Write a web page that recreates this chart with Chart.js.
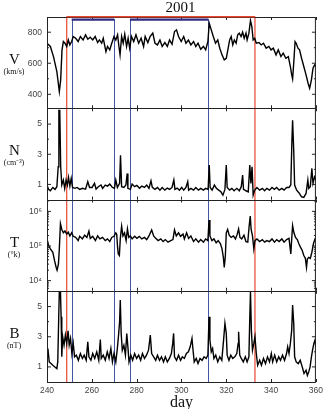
<!DOCTYPE html>
<html><head><meta charset="utf-8">
<script src="https://cdn.jsdelivr.net/npm/chart.js@4"></script>
<style>html,body{margin:0;padding:0;background:#fff;}#wrap{position:relative;width:327px;height:409px;}canvas{display:block}</style>
</head><body><div id="wrap"><canvas id="c" width="327" height="409"></canvas></div>
<script>
const yearTitle = '2001';
const xTitle = 'day';
const xTicks = [240, 260, 280, 300, 320, 340, 360];
const vTicks = [400, 600, 800];
const nTicks = [1, 3, 5];
const tTicks = [1e4, 1e5, 1e6];
const bTicks = [1, 3, 5];
const redBox = [248.8, 332.8];
const blueLines = [251, 270, 277, 312];
const blueBars = [[251, 270], [277, 312]];

const vData = [[240,729],[241.5,708],[242.9,643],[244.4,546],[245.5,417],[246.1,493],[246.7,686],[247.3,740],[248,729],[248.8,708],[249.5,750],[250.2,718],[251,740],[251.7,772],[252.8,761],[253.9,740],[254.9,772],[256.1,750],[257.2,783],[258.2,755],[259.3,768],[260.4,750],[261.5,772],[262.6,733],[263.4,750],[264.4,729],[265.1,761],[266.3,675],[267,708],[268,686],[268.9,729],[269.9,772],[270.7,750],[271.5,783],[272.1,708],[272.6,654],[273.3,772],[274,729],[274.7,787],[275.5,708],[276.2,761],[276.9,697],[277.7,772],[278.7,740],[279.7,783],[280.9,729],[282,761],[283.1,708],[283.8,772],[285,733],[286,772],[287.2,794],[288.2,729],[289.3,718],[290.4,750],[291.4,708],[292.6,733],[293.7,708],[294.7,750],[295.8,722],[296.9,804],[297.8,815],[298.7,772],[299.9,740],[301,772],[302,729],[303.1,750],[304.2,718],[305.4,740],[306.4,708],[307.4,729],[308.6,690],[309.8,708],[310.8,686],[311.8,740],[312.4,858],[313.3,815],[314.2,772],[315.2,729],[316.2,750],[317.1,697],[318.1,654],[319.1,622],[320,632],[320.7,686],[321.5,750],[322.2,772],[322.9,718],[323.6,750],[324.4,729],[325.1,783],[325.8,794],[326.6,772],[327.3,800],[328,761],[328.8,794],[329.3,750],[330.1,794],[330.8,875],[331.4,837],[332,750],[332.7,761],[333.4,729],[334.6,733],[335.6,718],[336.6,729],[337.8,697],[339,708],[340,686],[341,697],[342.2,654],[343.2,686],[344.4,643],[345.4,665],[346.6,632],[347.7,643],[348.6,579],[349.2,525],[349.6,499],[350.1,600],[350.7,740],[351.2,729],[352,697],[352.7,686],[353.6,632],[354.6,579],[355.6,525],[356.5,471],[357.2,439],[358,493],[358.7,568],[359.4,589],[360,579]];

const nData = [[240,0.96],[240.7,0.67],[241.5,0.58],[242.6,0.8],[243.6,0.67],[244.4,0.85],[245,2.17],[245.3,5.9],[245.7,5.9],[246.1,2.2],[246.6,0.96],[247.3,1.29],[247.9,0.74],[248.5,1.29],[249.1,0.96],[249.6,1.46],[250.2,0.89],[250.8,1.4],[251.4,0.8],[252.4,0.74],[253.4,0.8],[254.6,0.67],[255.8,0.74],[257.2,0.69],[258.2,1.18],[259,0.8],[260.1,0.8],[261.2,1.07],[261.9,0.69],[262.9,0.85],[264.1,0.96],[264.8,0.74],[266,0.96],[267,0.89],[268,1.02],[269.2,0.8],[270.1,0.74],[270.7,1.29],[271.4,0.8],[272.4,1.07],[272.8,2.94],[273.3,0.85],[274.3,0.8],[275.2,0.96],[275.8,1.73],[276.1,0.74],[277.2,0.67],[278,1.02],[279.1,0.85],[280.1,0.93],[281.3,0.74],[282.3,0.89],[283.5,0.8],[284.5,0.96],[285.5,0.74],[286.4,1.24],[287,0.8],[288.2,0.67],[289.3,0.8],[290.4,0.62],[291.4,0.8],[292.6,0.62],[293.7,0.76],[294.7,0.67],[295.8,0.8],[296.6,1.29],[297.1,0.67],[298.1,0.76],[299.1,0.62],[300.1,0.8],[301,0.62],[302,0.8],[302.8,1.18],[303.2,0.62],[304.2,0.74],[305.4,0.62],[306.4,0.8],[307.6,0.62],[308.6,0.74],[309.8,0.62],[310.8,0.74],[311.9,0.67],[312.4,2.28],[312.8,0.8],[313.7,0.62],[314.7,0.96],[315.6,0.74],[316.6,0.62],[317.6,0.51],[318.5,0.29],[319.4,0.67],[320,2.28],[320.4,0.8],[321.5,0.62],[322.5,0.74],[323.5,0.58],[324.7,0.74],[325.8,0.58],[326.7,0.85],[327.3,1.62],[327.7,0.67],[328.8,0.58],[329.8,0.51],[330.5,2.28],[331,1.07],[331.5,2.17],[332,0.29],[332.7,0.62],[333.7,0.8],[334.9,0.62],[336.1,0.74],[337.1,0.58],[338.1,0.74],[339.3,0.62],[340.4,0.8],[341.5,0.67],[342.5,0.8],[343.6,0.62],[344.8,0.74],[345.8,0.62],[346.9,0.8],[348,0.8],[348.8,0.96],[349.3,3.94],[349.6,5.26],[350.1,3.27],[350.5,0.96],[351.4,0.62],[352.4,0.45],[353.6,0.18],[354.6,0.14],[355.6,0.4],[356.4,1.29],[356.8,0.74],[357.5,0.85],[358.2,2.06],[358.7,1.07],[359.4,1.5],[360,1.29]];

const tData = [[240,1.6e5],[240.7,1.05e5],[241.5,8.3e4],[242.6,6.6e4],[243.4,3.7e4],[244.1,2.4e4],[244.5,2.0e4],[245.1,3.0e4],[245.5,8.3e4],[246,4.4e5],[246.6,3.0e5],[247.3,2.4e5],[248,2.7e5],[248.8,2.2e5],[249.5,2.5e5],[250.2,1.95e5],[251,2.4e5],[251.7,1.9e5],[252.8,1.77e5],[253.9,1.43e5],[254.6,1.9e5],[255.8,1.6e5],[256.8,2.05e5],[257.8,1.77e5],[258.7,2.7e5],[259.3,1.66e5],[260.4,1.9e5],[261.6,1.43e5],[262.6,1.95e5],[263.6,1.6e5],[264.8,1.77e5],[266,1.43e5],[267,1.6e5],[268,1.34e5],[268.9,1.77e5],[269.9,1.9e5],[270.7,2.4e5],[271.1,2.2e5],[271.5,9.3e4],[271.8,5.9e4],[272.3,5.3e4],[272.7,1.6e5],[273.3,3.7e5],[273.9,1.95e5],[274.6,2.4e5],[275.3,1.43e5],[275.9,3.1e5],[276.5,1.77e5],[277.2,1.95e5],[278,1.6e5],[279.1,1.9e5],[280.1,1.66e5],[281.2,1.9e5],[282.3,1.6e5],[283.5,1.77e5],[284.5,1.53e5],[285.5,1.95e5],[286.7,2.9e5],[287.6,1.95e5],[288.5,1.66e5],[289.6,1.43e5],[290.8,1.6e5],[291.8,1.34e5],[292.8,1.53e5],[294,1.29e5],[295.2,1.43e5],[296.2,1.53e5],[296.9,2.9e5],[297.7,1.95e5],[298.7,2.4e5],[299.6,1.9e5],[300.7,2.2e5],[301.3,1.6e5],[302.3,2.4e5],[303.2,1.66e5],[304.2,1.95e5],[305.4,1.34e5],[306.4,1.6e5],[307.6,1.29e5],[308.6,1.53e5],[309.8,1.29e5],[310.8,1.6e5],[311.8,1.43e5],[312.3,5.6e5],[312.7,1.95e5],[313.6,1.43e5],[314.5,1.6e5],[315.5,1.24e5],[316.4,1.43e5],[317.4,1.16e5],[318.1,8.3e4],[318.7,4.7e4],[319.1,2.4e4],[319.6,5.3e4],[320,2.4e5],[320.6,3.0e5],[321.3,2.05e5],[322.2,1.77e5],[323.2,1.95e5],[324.1,1.6e5],[324.9,2.2e5],[325.5,3.1e5],[326.1,1.77e5],[326.9,1.6e5],[327.9,2.05e5],[328.8,1.34e5],[329.6,1.29e5],[330.2,3.7e5],[330.7,7.3e5],[331.1,3.0e5],[331.7,1.95e5],[332.3,8.3e4],[332.8,1.43e5],[333.7,1.6e5],[334.9,1.34e5],[336.1,1.53e5],[337.1,1.29e5],[338.1,1.43e5],[339.3,1.34e5],[340.4,1.6e5],[341.5,1.29e5],[342.5,1.53e5],[343.6,1.34e5],[344.8,1.6e5],[345.8,1.29e5],[346.9,1.53e5],[348,1.66e5],[348.8,5.9e4],[349.2,1.6e5],[349.6,3.9e5],[350.2,2.4e5],[350.9,1.77e5],[351.7,1.53e5],[352.4,1.16e5],[353.1,9.3e4],[353.9,7.4e4],[354.6,5.3e4],[355.3,4.4e4],[355.8,2.4e4],[356.2,4.2e4],[356.8,4.7e4],[357.5,4.4e4],[358.2,6.6e4],[358.9,1.16e5],[359.6,1.6e5],[360,1.66e5]];

const bData = [[240,1.67],[240.4,2.22],[241,1.33],[241.8,1.22],[242.6,1.11],[243.5,1.0],[244.4,0.89],[244.8,1.33],[245.3,4.78],[245.5,6.0],[246,6.0],[246.3,4.33],[246.6,1.67],[247,3.0],[247.6,2.44],[248.2,3.11],[248.8,2.56],[249.4,3.4],[249.9,2.44],[250.5,2.89],[251.1,1.89],[251.7,2.56],[252.3,1.67],[253.1,1.78],[254,1.44],[254.9,1.89],[255.8,1.56],[256.6,1.78],[257.5,1.44],[258.2,2.67],[258.7,1.67],[259.6,1.44],[260.4,1.89],[261.3,1.56],[262.2,2.0],[263.1,1.44],[263.8,2.82],[264.2,1.56],[265.1,1.78],[266,1.44],[266.9,2.0],[267.7,1.56],[268.5,2.22],[269.2,1.33],[269.9,1.89],[270.7,1.33],[271.4,2.22],[272,3.22],[272.4,4.0],[272.7,5.44],[273.1,3.22],[273.6,2.11],[274.3,2.44],[275,1.78],[275.6,3.22],[276.1,2.33],[276.6,1.33],[277.4,1.78],[278.2,1.44],[279.1,1.89],[280,1.56],[280.9,1.78],[281.8,1.44],[282.6,1.89],[283.5,1.56],[284.4,1.78],[285.3,2.11],[286.1,3.11],[286.7,1.89],[287.6,1.67],[288.5,1.44],[289.3,1.78],[290.2,1.44],[291.1,1.67],[292,1.33],[292.8,1.67],[293.7,1.33],[294.6,1.56],[295.5,1.89],[296.1,2.56],[296.5,3.22],[296.9,1.67],[297.8,1.44],[298.7,1.78],[299.6,1.44],[300.4,1.67],[301.3,1.56],[302.2,1.89],[303.1,2.0],[303.9,2.33],[304.7,2.89],[305.1,2.22],[305.7,1.33],[306.6,1.56],[307.4,1.22],[308.3,1.56],[309.2,1.44],[310.1,1.67],[311,1.56],[311.8,1.78],[312.3,4.33],[312.7,2.78],[313.3,2.0],[313.9,2.22],[314.5,1.56],[315.3,1.78],[316.2,1.33],[317.1,1.67],[318,1.44],[318.8,2.78],[319.4,3.89],[320,3.22],[320.4,1.78],[321.2,1.44],[322,1.78],[322.9,1.56],[323.8,1.67],[324.7,1.89],[325.3,2.56],[325.5,3.33],[326,1.78],[326.7,1.56],[327.6,1.33],[328.5,1.67],[329.3,1.33],[330.1,1.67],[330.5,4.33],[330.8,6.0],[331.2,3.44],[331.7,2.11],[332.3,2.56],[332.8,3.0],[333.4,1.89],[334,1.11],[334.9,1.44],[335.7,1.11],[336.6,1.56],[337.5,1.22],[338.4,1.67],[339.3,1.33],[340.1,1.89],[340.7,1.33],[341.6,1.78],[342.5,1.33],[343.4,1.67],[344.2,1.44],[345.1,1.78],[346,1.44],[346.9,1.89],[347.4,2.33],[348,1.89],[348.6,2.56],[349.2,3.44],[349.6,5.11],[350.1,3.89],[350.5,1.67],[351.2,1.33],[352.1,1.22],[353,1.44],[353.9,1.0],[354.7,0.56],[355.6,0.78],[356.2,0.44],[356.8,0.67],[357.4,1.0],[358,1.67],[358.5,2.11],[359.1,2.56],[359.6,2.78],[360,2.33]];

const panelLabels = [
  {axis: 'yV', main: 'V', unit: '(km/s)'},
  {axis: 'yN', main: 'N', unit: '(cm\u207B\u00B3)'},
  {axis: 'yT', main: 'T', unit: '(\u00B0k)'},
  {axis: 'yB', main: 'B', unit: '(nT)'}
];
const supers = {4: '\u2074', 5: '\u2075', 6: '\u2076'};

const tickFont = {family: "'Liberation Sans', Arial, sans-serif", size: 8.5};
const tickColor = '#444';

function yScale(extra, ticksArr) {
  return Object.assign({
    position: 'left', stack: 'panels', stackWeight: 1,
    grid: {display: false, drawTicks: false}, border: {display: false},
    ticks: {font: tickFont, color: tickColor, padding: 5, autoSkip: false},
    afterBuildTicks: s => { s.ticks = ticksArr.map(v => ({value: v})); },
    afterFit: s => { s.width = 47; }
  }, extra);
}

const deco = {
  id: 'deco',
  beforeDatasetsDraw(chart) {
    const {ctx, chartArea: a, scales} = chart;
    const x = scales.x;
    ctx.save();
    ctx.strokeStyle = '#4356a6'; ctx.lineWidth = 1;
    blueLines.forEach(d => {
      const px = Math.round(x.getPixelForValue(d)) + 0.5;
      ctx.beginPath(); ctx.moveTo(px, a.top + 2); ctx.lineTo(px, a.bottom); ctx.stroke();
    });
    ctx.strokeStyle = '#e8452f'; ctx.lineWidth = 1.2;
    redBox.forEach(d => {
      const px = x.getPixelForValue(d);
      ctx.beginPath(); ctx.moveTo(px, a.top - 0.5); ctx.lineTo(px, a.bottom); ctx.stroke();
    });
    ctx.restore();
  },
  afterDatasetsDraw(chart) {
    const {ctx, chartArea: a, scales} = chart;
    const x = scales.x;
    ctx.save();
    ctx.strokeStyle = '#222'; ctx.lineWidth = 1;
    const minorSets = {
      yV: [500, 700],
      yN: [2, 4, 6],
      yB: [2, 4, 6],
      yT: [2e3,3e3,4e3,5e3,6e3,7e3,8e3,9e3,2e4,3e4,4e4,5e4,6e4,7e4,8e4,9e4,2e5,3e5,4e5,5e5,6e5,7e5,8e5,9e5,2e6]
    };
    ['yV','yN','yT','yB'].forEach(id => {
      const s = scales[id];
      ctx.strokeRect(a.left + 0.5, Math.round(s.top) + 0.5, a.right - a.left - 1, Math.round(s.bottom) - Math.round(s.top));
      const draw = (v, len) => {
        const py = s.getPixelForValue(v);
        if (py < s.top + 1 || py > s.bottom - 1) return;
        ctx.beginPath();
        ctx.moveTo(a.left, py); ctx.lineTo(a.left + len, py);
        ctx.moveTo(a.right, py); ctx.lineTo(a.right - len, py);
        ctx.stroke();
      };
      s.ticks.forEach(t => draw(t.value, 4));
      minorSets[id].forEach(v => draw(v, 2));
      xTicks.forEach(d => {
        const px = Math.round(x.getPixelForValue(d)) + 0.5;
        ctx.beginPath();
        ctx.moveTo(px, s.top); ctx.lineTo(px, s.top + 3);
        ctx.moveTo(px, s.bottom); ctx.lineTo(px, s.bottom - 3);
        ctx.stroke();
      });
    });
    // red top line
    ctx.strokeStyle = '#e8452f'; ctx.lineWidth = 1.6;
    ctx.beginPath();
    ctx.moveTo(x.getPixelForValue(redBox[0]), a.top - 0.3);
    ctx.lineTo(x.getPixelForValue(redBox[1]), a.top - 0.3);
    ctx.stroke();
    // navy bars
    ctx.strokeStyle = '#2c2d82'; ctx.lineWidth = 2.4;
    blueBars.forEach(([d0, d1]) => {
      ctx.beginPath();
      ctx.moveTo(x.getPixelForValue(d0), a.top + 2.6);
      ctx.lineTo(x.getPixelForValue(d1), a.top + 2.6);
      ctx.stroke();
    });
    // panel labels
    ctx.fillStyle = '#111';
    ctx.textAlign = 'center'; ctx.textBaseline = 'alphabetic';
    panelLabels.forEach(p => {
      const s = scales[p.axis];
      const cy = (s.top + s.bottom) / 2;
      ctx.font = "15px 'Liberation Serif', 'Times New Roman', serif";
      ctx.fillText(p.main, 14.5, cy + 1.5);
      ctx.font = "8px 'Liberation Serif', 'Times New Roman', serif";
      ctx.fillText(p.unit, 14, cy + 11.5);
    });
    // title & x title
    ctx.font = "15px 'Liberation Serif', 'Times New Roman', serif";
    ctx.fillText(yearTitle, (a.left + a.right) / 2 - 1, 11.5);
    ctx.font = "16px 'Liberation Serif', 'Times New Roman', serif";
    ctx.fillText(xTitle, (a.left + a.right) / 2, 407);
    ctx.restore();
  }
};

const toXY = arr => arr.map(([d, v]) => ({x: d, y: v}));
const ds = (data, axis) => ({data: toXY(data), yAxisID: axis, borderColor: '#000', borderWidth: 1.4, pointRadius: 0, tension: 0, fill: false});

new Chart(document.getElementById('c'), {
  type: 'line',
  data: {datasets: [ds(vData, 'yV'), ds(nData, 'yN'), ds(tData, 'yT'), ds(bData, 'yB')]},
  options: {
    responsive: false, animation: false, devicePixelRatio: 1,
    layout: {padding: {top: 17, right: 6, left: 0, bottom: 0}},
    plugins: {legend: {display: false}, tooltip: {enabled: false}, title: {display: false}},
    scales: {
      x: {
        type: 'linear', position: 'bottom', min: 240, max: 360,
        grid: {display: false, drawTicks: false}, border: {display: false},
        ticks: {font: tickFont, color: tickColor, padding: 4, maxRotation: 0, autoSkip: false},
        afterBuildTicks: s => { s.ticks = xTicks.map(v => ({value: v})); },
        afterFit: s => { s.height = 27; }
      },
      yB: yScale({type: 'linear', min: 0, max: 6.05}, bTicks),
      yT: yScale({type: 'logarithmic', min: 5100, max: 2.2e6,
        ticks: {font: tickFont, color: tickColor, padding: 5, autoSkip: false,
          callback: v => '10' + (supers[Math.round(Math.log10(v))] || '')}}, tTicks),
      yN: yScale({type: 'linear', min: 0, max: 6.05}, nTicks),
      yV: yScale({type: 'linear', min: 310, max: 898}, vTicks)
    }
  },
  plugins: [deco]
});
</script>
</body></html>
